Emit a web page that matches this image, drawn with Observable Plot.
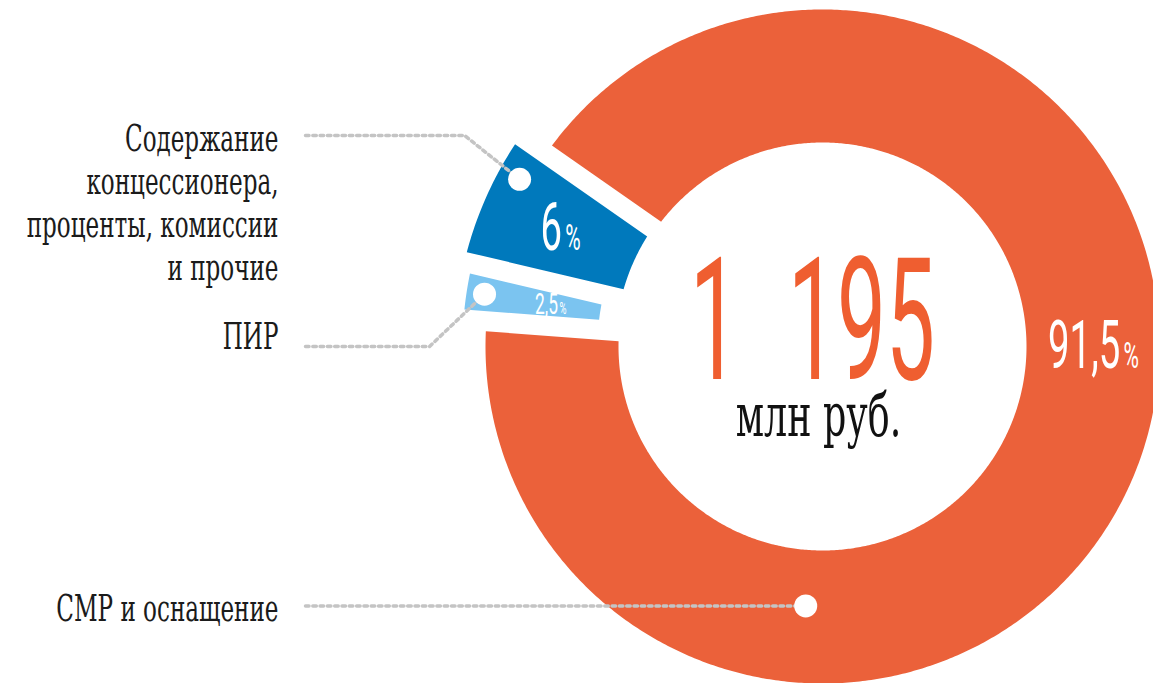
<!DOCTYPE html>
<html><head><meta charset="utf-8">
<script src="https://cdn.jsdelivr.net/npm/d3@7"></script>
<script src="https://cdn.jsdelivr.net/npm/@observablehq/plot@0.6"></script>
<style>
html,body{margin:0;padding:0;background:#fff;}
#chart{width:1153px;height:683px;overflow:hidden;}
</style></head><body><div id="chart"></div>
<script>
// ---- data ----
const categories = ["ПИР", "Содержание концессионера, проценты, комиссии и прочие", "СМР и оснащение"];
const labelLines = [["ПИР"], ["Содержание", "концессионера,", "проценты, комиссии", "и прочие"], ["СМР и оснащение"]];
const shares = [2.5, 6, 91.5];
const shareLabels = ["2,5%", "6%", "91,5%"];
const totalValue = "1 195";
const totalUnit = "млн руб.";

// ---- style / layout ----
const colors = ["#7bc4f0", "#0079bc", "#eb613a"];
const W = 1153, H = 683, cx = 822, cy = 346;
const rings = [[225, 360], [207, 368], [204, 337]];
const halfGap = 10;
const toRad = d => d * Math.PI / 180, toDeg = r => r * 180 / Math.PI;
const pt = (r, deg) => [r * Math.sin(toRad(deg)), -r * Math.cos(toRad(deg))];

const startDeg = 289.6 - (shares[0] + shares[1]) / 2 / 100 * 360;
let acc = startDeg;
const slices = shares.map((v, i) => {
  const a0 = acc; acc += v / 100 * 360;
  return {i, a0, a1: acc, ri: rings[i][0], ro: rings[i][1]};
});

const polyPts = [];
slices.forEach(s => {
  const n = Math.max(12, Math.ceil((s.a1 - s.a0) * 2));
  const po = toDeg(Math.asin(halfGap / s.ro)), pi = toDeg(Math.asin(halfGap / s.ri));
  for (let k = 0; k <= n; k++) {
    const d = s.a0 + po + (s.a1 - s.a0 - 2 * po) * k / n;
    const [x, y] = pt(s.ro, d); polyPts.push({cat: categories[s.i], x, y});
  }
  for (let k = 0; k <= n; k++) {
    const d = s.a1 - pi - (s.a1 - s.a0 - 2 * pi) * k / n;
    const [x, y] = pt(s.ri, d); polyPts.push({cat: categories[s.i], x, y});
  }
});

// dots sit on the slices; labels keep their own rows on the left
const dotPos = [
  pt(342, (slices[0].a0 + slices[0].a1) / 2),
  pt(346, slices[1].a1 - 6),
  pt(260, 183.7)
];
const leaderY = [0, -211, dotPos[2][1]];
const baseOff = [2, 15, 15];
const leaderX = 305 - cx, labelX = 278 - cx;
const leaderPts = [];
dotPos.forEach(([x, y], i) => {
  const ly = leaderY[i];
  leaderPts.push({cat: categories[i], x: leaderX, y: ly});
  if (Math.abs(ly - y) > 1) leaderPts.push({cat: categories[i], x: x - 55, y: ly});
  leaderPts.push({cat: categories[i], x, y});
});
const dots = dotPos.map(([x, y], i) => ({cat: categories[i], x, y}));
const labelRows = [];
labelLines.forEach((lines, i) => lines.forEach((line, j) =>
  labelRows.push({text: line, x: labelX, y: leaderY[i] + baseOff[i] + j * 43})));

const pctPos = [
  pt(275, (slices[0].a0 + slices[0].a1) / 2),
  pt(287, (slices[1].a0 + slices[1].a1) / 2),
  pt(271, 90)
];
const pctRows = shareLabels.map((t, i) => ({text: t, x: pctPos[i][0], y: pctPos[i][1], i}));

const slab = "'DejaVu Serif Condensed', 'DejaVu Serif', serif";
const plot = Plot.plot({
  width: W, height: H, margin: 0,
  x: {domain: [-cx, W - cx], range: [0, W], axis: null},
  y: {domain: [-cy, H - cy], range: [0, H], axis: null},
  color: {domain: categories, range: colors},
  style: {background: "white"},
  marks: [
    Plot.line(polyPts, {x: "x", y: "y", z: "cat", fill: "cat", stroke: "none"}),
    Plot.line(leaderPts, {x: "x", y: "y", z: "cat", stroke: "#c4c4c4", strokeWidth: 3.5, strokeDasharray: "3.5,3.8"}),
    Plot.dot(dots, {x: "x", y: "y", r: 11.5, fill: "white", stroke: "none"}),
    Plot.text(labelRows, {x: "x", y: "y", text: "text", textAnchor: "end", lineAnchor: "bottom",
      fontSize: 38, fill: "#1b1b1b", fontFamily: slab}),
    Plot.text(pctRows.filter(d => d.i > 0), {x: "x", y: "y", text: "text", textAnchor: "middle", lineAnchor: "middle",
      fontSize: 66, fill: "white", fontFamily: "Roboto, sans-serif"}),
    Plot.text(pctRows.filter(d => d.i === 0), {x: "x", y: "y", text: "text", textAnchor: "middle", lineAnchor: "middle",
      fontSize: 30, fill: "white", fontFamily: "Roboto, sans-serif"}),
    Plot.text([totalValue], {x: () => -10, y: () => 32, text: d => d.replace(" ", "\u2007"), textAnchor: "middle", lineAnchor: "bottom",
      fontSize: 170, fill: "#ef5e30", fontFamily: "Roboto, sans-serif"}),
    Plot.text([totalUnit], {x: () => -4, y: () => 89, text: d => d, textAnchor: "middle", lineAnchor: "bottom",
      fontSize: 60, fill: "#111", fontFamily: slab})
  ]
});
document.getElementById("chart").append(plot);

// condense text horizontally with a scale transform; percent signs become smaller neighbours
const slabK = 0.675, numK = 0.58, bigWidth = 245;
const emToPx = (v, fs) => v == null ? 0 : (String(v).endsWith("em") ? parseFloat(v) * fs : (parseFloat(v) || 0));
const getXY = t => {
  const tr = t.getAttribute("transform") || "";
  const m = tr.match(/translate\(\s*([-\d.e]+)[\s,]+([-\d.e]+)\s*\)/);
  let X = m ? +m[1] : 0, Y = m ? +m[2] : 0;
  ["x", "y"].forEach(a => {
    const v = t.getAttribute(a);
    if (v != null && !v.endsWith("em")) {
      if (a === "x") X += parseFloat(v) || 0; else Y += parseFloat(v) || 0;
      t.removeAttribute(a);
    }
  });
  return [X, Y];
};
const place = (t, X, Y, k) => t.setAttribute("transform", `translate(${X},${Y}) scale(${k},1)`);
plot.querySelectorAll('g[aria-label="text"]').forEach(g => {
  const ff = g.getAttribute("font-family") || "";
  const isNum = ff.includes("Roboto");
  const fs = parseFloat(g.getAttribute("font-size")) || 16;
  Array.from(g.querySelectorAll("text")).forEach(t => {
    const s = t.textContent;
    const [X, Y] = getXY(t);
    if (!isNum) { place(t, X, Y, slabK); return; }
    if (s.endsWith("%")) {
      t.textContent = s.slice(0, -1);
      t.setAttribute("y", emToPx(t.getAttribute("y"), fs));
      t.setAttribute("dy", emToPx(t.getAttribute("dy"), fs));
      const p = t.cloneNode(false);
      p.textContent = "%";
      p.setAttribute("font-size", fs * 0.55);
      t.after(p);
      const nW = t.getComputedTextLength() * numK, pW = p.getComputedTextLength() * numK;
      const gap = fs * 0.05, T = nW + gap + pW;
      t.setAttribute("text-anchor", "end");
      p.setAttribute("text-anchor", "start");
      place(t, X - T / 2 + nW, Y, numK);
      place(p, X - T / 2 + nW + gap, Y, numK);
    } else {
      const k = bigWidth / t.getComputedTextLength();
      place(t, X, Y, k);
    }
  });
});
</script></body></html>
